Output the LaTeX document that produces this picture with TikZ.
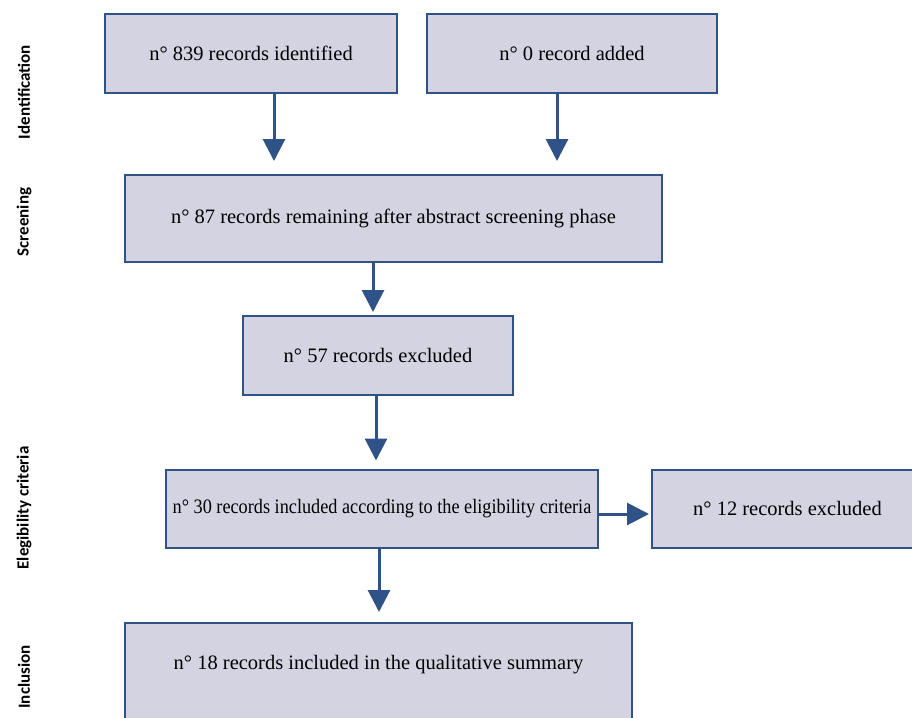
\documentclass[tikz,border=0pt]{standalone}
\usepackage{fontspec}
\setmainfont{Liberation Serif}
\newfontfamily\phasefont{Carlito}
\usetikzlibrary{arrows.meta,positioning}
\definecolor{boxfill}{RGB}{211,211,226}
\definecolor{boxline}{RGB}{47,82,135}

\begin{document}
\begin{tikzpicture}[
    x=1pt, y=1pt,
    recbox/.style={draw=boxline, fill=boxfill, line width=2pt, inner sep=0pt, align=center, font=\fontsize{20.5}{24}\selectfont},
    phase/.style={rotate=90, font=\phasefont\bfseries\fontsize{17}{20}\selectfont},
    arrow/.style={-{Triangle[length=22pt, width=22pt]}, line width=3pt, draw=boxline}
]
\useasboundingbox (0,0) rectangle (912,-717);
\clip (0,0) rectangle (912,-717);

% Boxes
\node[recbox, minimum width=292, minimum height=79] (idf) at (251,-53.5) {n° 839 records identified};
\node[recbox, minimum width=290, minimum height=79] (add) at (572,-53.5) {n° 0 record added};
\node[recbox, minimum width=537, minimum height=87] (scr) at (393.5,-218.5) {n° 87 records remaining after abstract screening phase};
\node[recbox, minimum width=270, minimum height=79] (exa) at (378,-355.5) {n° 57 records excluded};
\node[recbox, minimum width=432, minimum height=78] (elg) at (382,-508.5) {\scalebox{0.89}[1]{n° 30 records included according to the eligibility criteria}};
\node[recbox, minimum width=271, minimum height=78] (exb) at (787.5,-508.5) {n° 12 records excluded};
\node[recbox, minimum width=507, anchor=north, text height=46, text depth=70] (inc) at (378.5,-622) {n° 18 records included in the qualitative summary};

% Arrows
\draw[arrow, shorten >=13pt] ([xshift=23]idf.south) -- ([xshift=23]idf.south |- scr.north);
\draw[arrow, shorten >=13pt] ([xshift=-15]add.south) -- ([xshift=-15]add.south |- scr.north);
\draw[arrow, shorten >=3pt] ([xshift=-20.5]scr.south) -- ([xshift=-20.5]scr.south |- exa.north);
\draw[arrow, shorten >=8pt] ([xshift=-2]exa.south) -- ([xshift=-2]exa.south |- elg.north);
\draw[arrow, shorten >=2pt] ([yshift=-5.5]elg.east) -- ([yshift=-5.5]elg.east -| exb.west);
\draw[arrow, shorten >=10pt] ([xshift=-3]elg.south) -- ([xshift=-3]elg.south |- inc.north);

% Phase labels
\node[phase] (ph1) at (24,-92) {Identification};
\node[phase] (ph2) at (24,-222) {Screening};
\node[phase] (ph3) at (24,-508) {Elegibility criteria};
\node[phase] (ph4) at (24,-677) {Inclusion};

\end{tikzpicture}
\end{document}
